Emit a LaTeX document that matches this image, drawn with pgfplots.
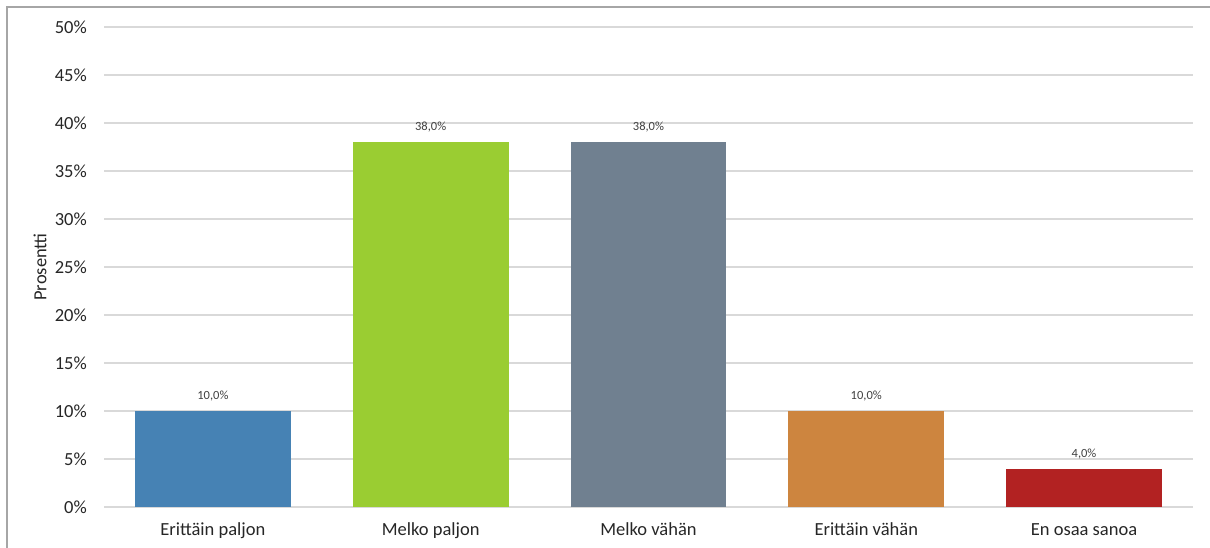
\documentclass[border=0pt]{standalone}
\usepackage{pgfplots}
\pgfplotsset{compat=1.18}
\usepackage{fontspec}
\setmainfont{Carlito}
\definecolor{barA}{HTML}{4682B4}
\definecolor{barB}{HTML}{9ACD32}
\definecolor{barC}{HTML}{708090}
\definecolor{barD}{HTML}{CD853F}
\definecolor{barE}{HTML}{B22222}
\definecolor{gridgray}{HTML}{D9D9D9}
\definecolor{framegray}{HTML}{A6A6A6}
\definecolor{txt}{HTML}{262626}
\definecolor{valtxt}{HTML}{404040}
\begin{document}
\begin{tikzpicture}[x=1pt,y=1pt]
  \useasboundingbox (0,0) rectangle (1210,548);
  % frame on the left and top edges
  \draw[framegray, line width=1.5pt] (7,0) -- (7,541) -- (1210,541);
  \begin{axis}[
    at={(104pt,41pt)}, anchor=south west,
    scale only axis, width=1089pt, height=480pt,
    ybar, bar width=0.716,
    xmin=-0.5, xmax=4.5, ymin=0, ymax=50,
    xtick={0,1,2,3,4},
    xticklabels={Erittäin paljon, Melko paljon, Melko vähän, Erittäin vähän, En osaa sanoa},
    ytick={0,5,10,15,20,25,30,35,40,45,50},
    yticklabels={0\%,5\%,10\%,15\%,20\%,25\%,30\%,35\%,40\%,45\%,50\%},
    /pgf/number format/assume math mode=true,
    major tick length=0pt,
    axis line style={draw=none},
    ymajorgrids, grid style={gridgray, line width=1.8pt},
    ticklabel style={font=\fontsize{18.5}{22}\selectfont, text=txt, inner sep=0pt},
    yticklabel style={anchor=east, xshift=-17pt},
    xticklabel style={anchor=base, yshift=-29pt},
    ylabel={Prosentti},
    every axis y label/.style={at={(axis description cs:-0.0588,0.5)}, rotate=90, anchor=center, font=\fontsize{18.5}{22}\selectfont, text=txt},
    nodes near coords={\pgfmathprintnumber[fixed,fixed zerofill,precision=1,use comma]{\pgfplotspointmeta}\%},
    every node near coord/.append style={anchor=base, yshift=11.5pt, inner sep=0pt, font=\fontsize{12.5}{15}\selectfont, text=valtxt},
    clip=false,
  ]
    \addplot[fill=barA, draw=none, bar shift=0pt] coordinates {(0,10.0)};
    \addplot[fill=barB, draw=none, bar shift=0pt] coordinates {(1,38.0)};
    \addplot[fill=barC, draw=none, bar shift=0pt] coordinates {(2,38.0)};
    \addplot[fill=barD, draw=none, bar shift=0pt] coordinates {(3,10.0)};
    \addplot[fill=barE, draw=none, bar shift=0pt] coordinates {(4,4.0)};
  \end{axis}
\end{tikzpicture}
\end{document}
